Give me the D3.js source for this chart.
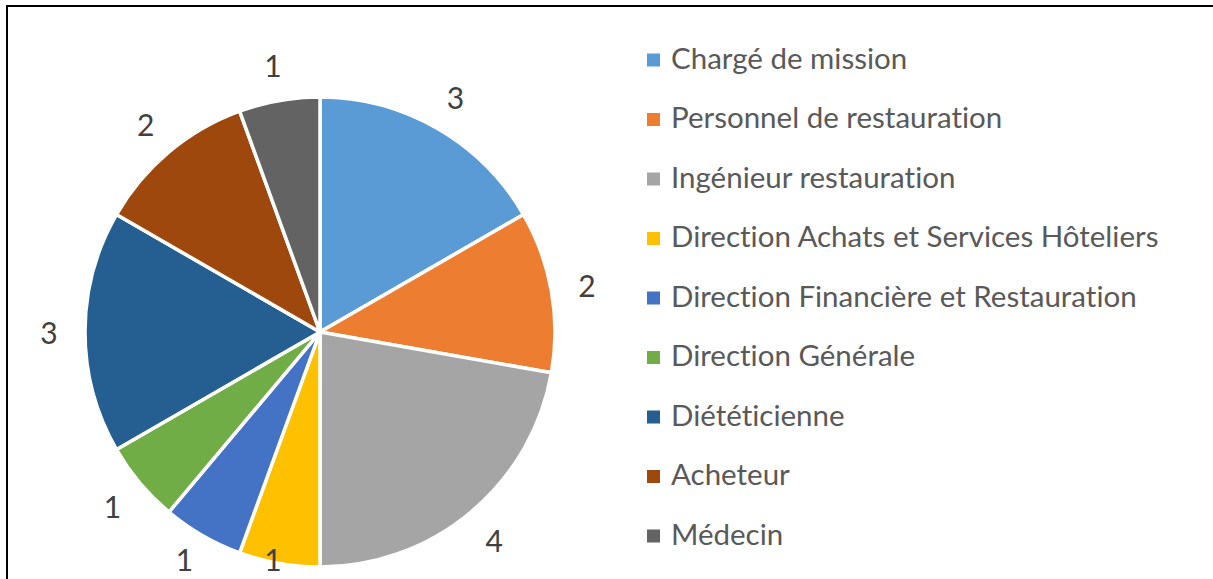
<!DOCTYPE html>
<html>
<head>
<meta charset="utf-8">
<script src="https://cdn.jsdelivr.net/npm/d3@7"></script>
<style>
  html, body { margin: 0; padding: 0; background: #fff; }
  svg { display: block; }
  text { font-variant-ligatures: none; }
</style>
</head>
<body>
<div id="chart"></div>
<script>
// data
const categories = [
  'Chargé de mission',
  'Personnel de restauration',
  'Ingénieur restauration',
  'Direction Achats et Services Hôteliers',
  'Direction Financière et Restauration',
  'Direction Générale',
  'Diététicienne',
  'Acheteur',
  'Médecin'
];
const values = [3, 2, 4, 1, 1, 1, 3, 2, 1];
const colors = ['#5b9bd5', '#ed7d31', '#a5a5a5', '#ffc000', '#4472c4', '#70ad47', '#255e91', '#9e480e', '#636363'];

const width = 1213;
const height = 579;
const cx = 320, cy = 332, radius = 235;
const labelRadius = 271;
const fontFamily = 'Lato, "Open Sans", sans-serif';

const svg = d3.select('#chart')
  .append('svg')
  .attr('width', width)
  .attr('height', height);

// chart frame (only top and left edges are in view)
svg.append('path')
  .attr('d', 'M7,' + height + 'V6H' + width)
  .attr('fill', 'none')
  .attr('stroke', '#000')
  .attr('stroke-width', 2);

const pie = d3.pie().sort(null).value(d => d);
const arcs = pie(values);
const arc = d3.arc().innerRadius(0).outerRadius(radius);

const g = svg.append('g')
  .attr('transform', 'translate(' + cx + ',' + cy + ')');

g.selectAll('path.slice')
  .data(arcs)
  .enter()
  .append('path')
  .attr('class', 'slice')
  .attr('d', arc)
  .attr('fill', (d, i) => colors[i])
  .attr('stroke', '#fff')
  .attr('stroke-width', 3.5)
  .attr('stroke-linejoin', 'round');

// value labels outside the slices, kept inside the visible area
g.selectAll('text.val')
  .data(arcs)
  .enter()
  .append('text')
  .attr('class', 'val')
  .attr('x', d => labelRadius * Math.sin((d.startAngle + d.endAngle) / 2))
  .attr('y', d => Math.min(labelRadius * -Math.cos((d.startAngle + d.endAngle) / 2), 559 - cy))
  .attr('text-anchor', 'middle')
  .attr('dominant-baseline', 'central')
  .attr('font-family', fontFamily)
  .attr('font-size', 30)
  .attr('fill', '#404040')
  .text(d => d.data);

// legend
const legend = svg.append('g')
  .attr('transform', 'translate(647,0)');

const rows = legend.selectAll('g.row')
  .data(categories)
  .enter()
  .append('g')
  .attr('class', 'row')
  .attr('transform', (d, i) => 'translate(0,' + (68.5 + 59.5 * i) + ')');

rows.append('rect')
  .attr('x', 0)
  .attr('y', -15)
  .attr('width', 13)
  .attr('height', 13)
  .attr('fill', (d, i) => colors[i]);

rows.append('text')
  .attr('x', 24)
  .attr('y', 0)
  .attr('font-family', fontFamily)
  .attr('font-size', 29.5)
  .attr('fill', '#595959')
  .text(d => d);
</script>
</body>
</html>
